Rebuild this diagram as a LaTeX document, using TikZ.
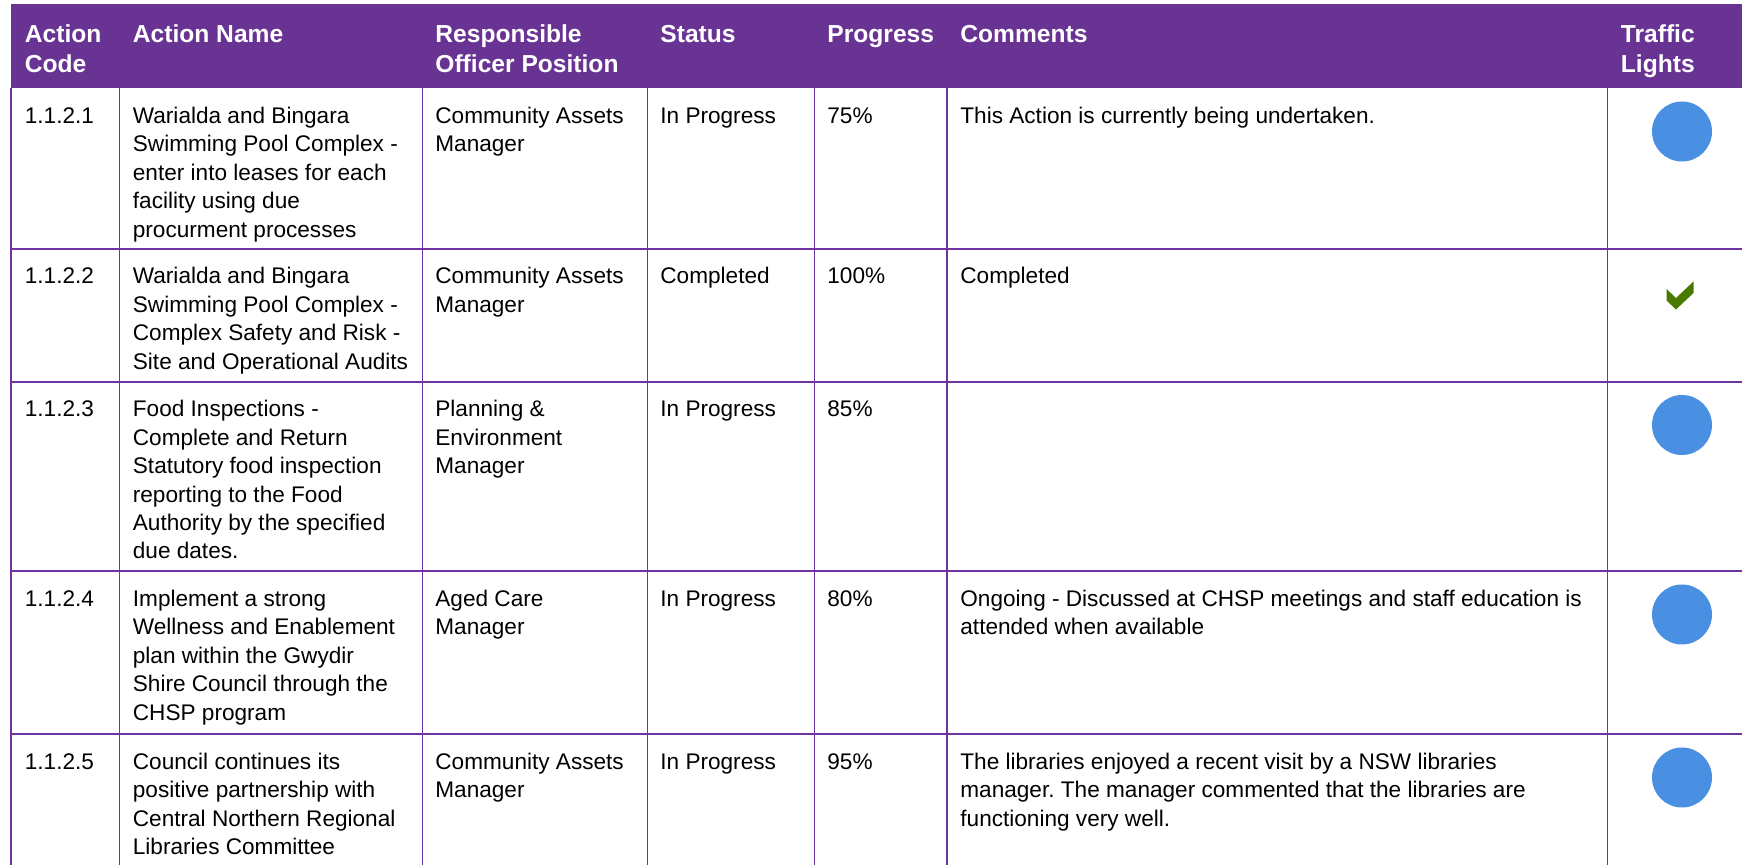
\documentclass[tikz,border=0pt]{standalone}
\usepackage{fontspec}
\setmainfont{Liberation Sans}
\frenchspacing
\definecolor{hdr}{RGB}{105,51,148}
\definecolor{gridc}{RGB}{112,52,160}
\definecolor{tlblue}{RGB}{74,144,226}
\definecolor{tlgreen}{RGB}{72,122,0}
\newcommand{\celltext}[1]{\parbox[t]{320pt}{\raggedright\frenchspacing #1}}
\tikzset{
  body/.style={anchor=base west, inner sep=0pt, font=\fontsize{11.3}{14.2}\selectfont},
  head/.style={anchor=base west, inner sep=0pt, text=white, font=\fontsize{12.3}{15}\selectfont\bfseries},
  gridline/.style={draw=gridc, line width=0.7pt},
  light/.style={circle, fill=tlblue, minimum size=30pt, inner sep=0pt},
}
\begin{document}
\begin{tikzpicture}[x=0.5pt,y=-0.5pt]
\useasboundingbox[fill=white] (0,0) rectangle (1742,865);
% header band
\fill[hdr] (11,4) rectangle (1742,88.5);
% grid
\foreach \gx in {11,119.5,422.3,647.5,814.3,947,1607.5}
  \draw[gridline] (\gx,88.5) -- (\gx,865);
\foreach \gy in {249,382,571,734}
  \draw[gridline] (11,\gy) -- (1742,\gy);
% header texts
\node[head] (h1) at (24.5,43) {\celltext{Action\\Code}};
\node[head] (h2) at (132.5,43) {\celltext{Action Name}};
\node[head] (h3) at (435,43) {\celltext{Responsible\\Officer Position}};
\node[head] (h4) at (660,43) {\celltext{Status}};
\node[head] (h5) at (827,43) {\celltext{Progress}};
\node[head] (h6) at (960,43) {\celltext{Comments}};
\node[head] (h7) at (1620.5,43) {\celltext{Traffic\\Lights}};
% row 1
\node[body] (r1a) at (24.5,123.5) {\celltext{1.1.2.1}};
\node[body] (r1b) at (132.5,123.5) {\celltext{Warialda and Bingara\\Swimming Pool Complex -\\enter into leases for each\\facility using due\\procurment processes}};
\node[body] (r1c) at (435,123.5) {\celltext{Community Assets\\Manager}};
\node[body] (r1d) at (660,123.5) {\celltext{In Progress}};
\node[body] (r1e) at (827,123.5) {\celltext{75\%}};
\node[body] (r1f) at (960,123.5) {\celltext{This Action is currently being undertaken.}};
\node[light] (r1g) at (1682,131.5) {};
% row 2
\node[body] (r2a) at (24.5,284) {\celltext{1.1.2.2}};
\node[body] (r2b) at (132.5,284) {\celltext{Warialda and Bingara\\Swimming Pool Complex -\\Complex Safety and Risk -\\Site and Operational Audits}};
\node[body] (r2c) at (435,284) {\celltext{Community Assets\\Manager}};
\node[body] (r2d) at (660,284) {\celltext{Completed}};
\node[body] (r2e) at (827,284) {\celltext{100\%}};
\node[body] (r2f) at (960,284) {\celltext{Completed}};
\fill[tlgreen] (1666.5,289) -- (1676,298) -- (1693.5,281.5) -- (1693.5,293) -- (1676,309.5) -- (1666.5,300.5) -- cycle;
% row 3
\node[body] (r3a) at (24.5,417) {\celltext{1.1.2.3}};
\node[body] (r3b) at (132.5,417) {\celltext{Food Inspections -\\Complete and Return\\Statutory food inspection\\reporting to the Food\\Authority by the specified\\due dates.}};
\node[body] (r3c) at (435,417) {\celltext{Planning \&\\Environment\\Manager}};
\node[body] (r3d) at (660,417) {\celltext{In Progress}};
\node[body] (r3e) at (827,417) {\celltext{85\%}};
\node[light] (r3g) at (1682,425) {};
% row 4
\node[body] (r4a) at (24.5,606.5) {\celltext{1.1.2.4}};
\node[body] (r4b) at (132.5,606.5) {\celltext{Implement a strong\\Wellness and Enablement\\plan within the Gwydir\\Shire Council through the\\CHSP program}};
\node[body] (r4c) at (435,606.5) {\celltext{Aged Care\\Manager}};
\node[body] (r4d) at (660,606.5) {\celltext{In Progress}};
\node[body] (r4e) at (827,606.5) {\celltext{80\%}};
\node[body] (r4f) at (960,606.5) {\celltext{Ongoing - Discussed at CHSP meetings and staff education is\\attended when available}};
\node[light] (r4g) at (1682,614.5) {};
% row 5
\node[body] (r5a) at (24.5,769.5) {\celltext{1.1.2.5}};
\node[body] (r5b) at (132.5,769.5) {\celltext{Council continues its\\positive partnership with\\Central Northern Regional\\Libraries Committee}};
\node[body] (r5c) at (435,769.5) {\celltext{Community Assets\\Manager}};
\node[body] (r5d) at (660,769.5) {\celltext{In Progress}};
\node[body] (r5e) at (827,769.5) {\celltext{95\%}};
\node[body] (r5f) at (960,769.5) {\celltext{The libraries enjoyed a recent visit by a NSW libraries\\manager. The manager commented that the libraries are\\functioning very well.}};
\node[light] (r5g) at (1682,777.5) {};
\end{tikzpicture}
\end{document}
